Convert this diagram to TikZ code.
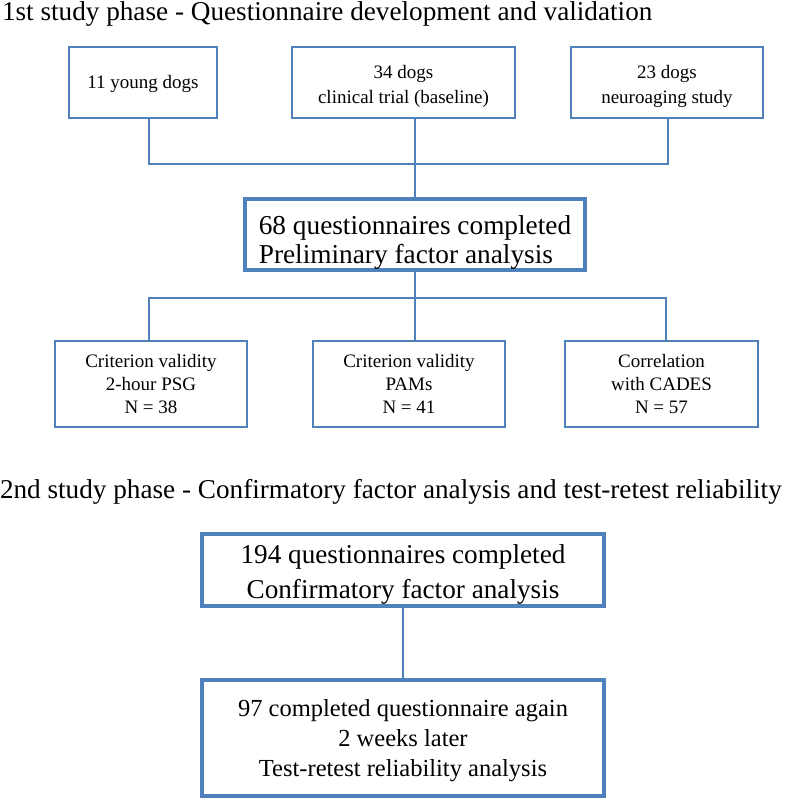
\documentclass[tikz,border=0pt]{standalone}
\usepackage{fontspec}
\setmainfont{Liberation Serif}
\definecolor{boxblue}{RGB}{79,129,189}
% taller first line, so that the lines sit lower in their box
\newcommand{\pushdown}[1]{\rule{0pt}{\dimexpr0.683em+#1\relax}}

\begin{document}
\begin{tikzpicture}[x=1pt, y=-1pt,
  every node/.style={anchor=north west, align=center, inner sep=0pt, outer sep=0pt},
  thinbox/.style={draw=boxblue, line width=2pt, fill=white},
  thickbox/.style={draw=boxblue, line width=4.5pt, fill=white},
  link/.style={draw=boxblue, line width=2pt},
  phasetitle/.style={anchor=base west, font=\fontsize{27.2}{30}\selectfont}]

\useasboundingbox (0,0) rectangle (786,801);

% Phase 1 heading
\node[phasetitle] (phaseone) at (2,20) {1st study phase - Questionnaire development and validation};

% Samples
\node[thinbox, minimum width=148pt, minimum height=71pt, font=\fontsize{19}{25}\selectfont] (dogsyoung) at (69,47) {\pushdown{4pt}11 young dogs};
\node[thinbox, minimum width=223pt, minimum height=71pt, font=\fontsize{19}{25}\selectfont] (dogstrial) at (292,47) {\pushdown{8pt}34 dogs\\clinical trial (baseline)};
\node[thinbox, minimum width=192pt, minimum height=71pt, font=\fontsize{19}{25}\selectfont] (dogsneuro) at (571,47) {\pushdown{8pt}23 dogs\\neuroaging study};

% Preliminary analysis
\node[thickbox, minimum width=340pt, minimum height=71pt, align=left, font=\fontsize{27.3}{29}\selectfont] (prelim) at (245,199) {\pushdown{16pt}68 questionnaires completed\\Preliminary factor analysis};

% Validity checks
\node[thinbox, minimum width=192pt, minimum height=86pt, font=\fontsize{19}{23}\selectfont] (psg) at (55,341) {Criterion validity\\2-hour PSG\\N = 38};
\node[thinbox, minimum width=192pt, minimum height=86pt, font=\fontsize{19}{23}\selectfont] (pams) at (313,341) {Criterion validity\\PAMs\\N = 41};
\node[thinbox, minimum width=193pt, minimum height=86pt, font=\fontsize{19}{23}\selectfont] (cades) at (565,341) {Correlation\\with CADES\\N = 57};

% Phase 2 heading
\node[phasetitle] (phasetwo) at (0,498) {2nd study phase - Confirmatory factor analysis and test-retest reliability};

% Confirmatory analysis and retest
\node[thickbox, minimum width=402pt, minimum height=72pt, font=\fontsize{27.2}{35}\selectfont] (confirm) at (202,534) {\pushdown{10pt}194 questionnaires completed\\Confirmatory factor analysis};
\node[thickbox, minimum width=402pt, minimum height=116pt, font=\fontsize{24.5}{30}\selectfont] (retest) at (202,680) {\pushdown{6pt}97 completed questionnaire again\\2 weeks later\\Test-retest reliability analysis};

% Connectors
\coordinate (splitone) at (415,164);
\coordinate (splittwo) at (415,298);
\draw[link] ([xshift=6pt]dogsyoung.south) |- (splitone) -| ([xshift=1pt]dogsneuro.south);
\draw[link] (dogstrial.south -| prelim.north) -- (prelim.north);
\draw[link] (prelim.south) -- (splittwo);
\draw[link] ([xshift=-2pt]psg.north) |- (splittwo) -| ([xshift=4.5pt]cades.north);
\draw[link] (splittwo) -- (pams.north -| splittwo);
\draw[link] (confirm.south) -- (retest.north);

\end{tikzpicture}
\end{document}
